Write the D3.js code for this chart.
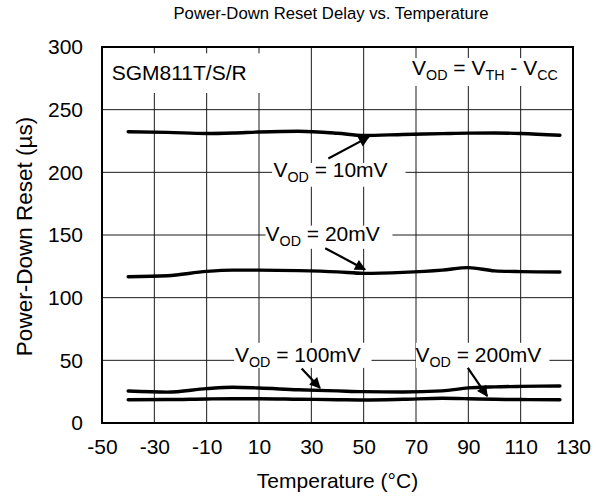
<!DOCTYPE html>
<html>
<head>
<meta charset="utf-8">
<script src="https://cdn.jsdelivr.net/npm/d3@7/dist/d3.min.js"></script>
<style>
  html, body { margin: 0; padding: 0; background: #fff; }
  svg { display: block; font-family: Arial, "Liberation Sans", sans-serif; }
</style>
</head>
<body>
<svg id="chart" width="600" height="498"></svg>
<script>
// ---- Data ----
const temperature = [-40, -25, -10, 0, 10, 25, 40, 50, 65, 80, 90, 100, 110, 125];
const vod10mV  = [232.4, 231.9, 231.0, 231.4, 232.2, 232.8, 231.2, 229.4, 230.2, 230.9, 231.3, 231.4, 231.0, 229.6];
const vod20mV  = [116.7, 117.5, 121.0, 122.0, 122.0, 121.6, 120.6, 119.4, 120.2, 122.0, 124.0, 121.4, 120.8, 120.5];
const vod100mV = [25.5, 24.6, 27.4, 28.5, 27.9, 26.5, 25.6, 25.0, 24.7, 25.6, 28.0, 28.8, 29.2, 29.5];
const vod200mV = [18.6, 18.7, 19.2, 19.4, 19.4, 19.0, 18.6, 18.4, 18.9, 19.7, 19.4, 18.9, 18.7, 18.6];
const seriesNames = ["10mV", "20mV", "100mV", "200mV"];
const xTicks = [-50, -30, -10, 10, 30, 50, 70, 90, 110, 130];
const yTicks = [0, 50, 100, 150, 200, 250, 300];
const title = "Power-Down Reset Delay vs. Temperature";
const xLabel = "Temperature (°C)";
const yLabel = "Power-Down Reset (µs)";

// ---- Layout ----
const W = 600, H = 498;
const margin = { top: 47, right: 27, bottom: 75, left: 102 };
const iw = W - margin.left - margin.right;
const ih = H - margin.top - margin.bottom;
const FS = 21;

const svg = d3.select("#chart");
const x = d3.scaleLinear().domain([-50, 130]).range([0, iw]);
const y = d3.scaleLinear().domain([0, 300]).range([ih, 0]);

const g = svg.append("g").attr("transform", `translate(${margin.left},${margin.top})`);

// grid
g.append("g").selectAll("line").data(xTicks.slice(1, -1)).join("line")
  .attr("x1", d => x(d)).attr("x2", d => x(d)).attr("y1", 0).attr("y2", ih)
  .attr("stroke", "#1a1a1a").attr("stroke-width", 1);
g.append("g").selectAll("line").data(yTicks.slice(1, -1)).join("line")
  .attr("y1", d => y(d)).attr("y2", d => y(d)).attr("x1", 0).attr("x2", iw)
  .attr("stroke", "#1a1a1a").attr("stroke-width", 1);

// axes (labels only)
const fmt = d => String(d);
const xAxis = d3.axisBottom(x).tickValues(xTicks).tickSize(0).tickPadding(16).tickFormat(fmt);
const yAxis = d3.axisLeft(y).tickValues(yTicks).tickSize(0).tickPadding(19).tickFormat(fmt);
const gx = g.append("g").attr("transform", `translate(0,${ih})`).call(xAxis);
const gy = g.append("g").call(yAxis);
[gx, gy].forEach(a => {
  a.select(".domain").remove();
  a.selectAll("text").attr("font-size", FS).attr("fill", "#000")
    .attr("font-family", "Arial, 'Liberation Sans', sans-serif");
});
gx.selectAll("text").attr("dy", "0.71em");

// label backgrounds (white boxes that interrupt the grid)
const boxes = [
  { x0: -50, x1: 11.1, y0: 295, y1: 263.3 },
  { x0: 15, x1: 66, y0: 207.5, y1: 188.5 },
  { x0: 12.5, x1: 61, y0: 157.5, y1: 139 },
  { x0: 0.5, x1: 53, y0: 64, y1: 44 },
  { x0: 70, x1: 121, y0: 64, y1: 44 },
  { x0: 67.3, x1: 127.3, y0: 291.2, y1: 268.9 }
];
g.append("g").selectAll("rect").data(boxes).join("rect")
  .attr("x", d => x(d.x0)).attr("width", d => x(d.x1) - x(d.x0))
  .attr("y", d => y(d.y0)).attr("height", d => y(d.y1) - y(d.y0))
  .attr("fill", "#fff");

// frame
g.append("rect").attr("x", 0).attr("y", 0).attr("width", iw).attr("height", ih)
  .attr("fill", "none").attr("stroke", "#000").attr("stroke-width", 2);

// lines
const allSeries = [vod10mV, vod20mV, vod100mV, vod200mV];
const line = d3.line().x((d, i) => x(temperature[i])).y(d => y(d)).curve(d3.curveMonotoneX);
g.append("g").selectAll("path").data(allSeries).join("path")
  .attr("d", d => line(d)).attr("fill", "none").attr("stroke", "#000")
  .attr("stroke-width", 3.4).attr("stroke-linecap", "round");

// subscripted label helper
function subText(sel, tx, ty, parts, size) {
  const t = sel.append("text").attr("x", tx).attr("y", ty).attr("font-size", size).attr("fill", "#000");
  let shifted = false;
  parts.forEach(p => {
    const s = t.append("tspan").text(p.t);
    if (p.sub) { s.attr("font-size", size * 0.68).attr("dy", 5); shifted = true; }
    else if (shifted) { s.attr("dy", -5); shifted = false; }
  });
  return t;
}

// annotations
const ann = [
  { name: seriesNames[0], tx: 15.5, ty: 196, ax0: 36.5, ay0: 211, ax1: 52, ay1: 228.3 },
  { name: seriesNames[1], tx: 12.5, ty: 145.5, ax0: 35.3, ay0: 139.5, ax1: 50.5, ay1: 122.5 },
  { name: seriesNames[2], tx: 0.8, ty: 49, ax0: 26.3, ay0: 43.5, ax1: 33.3, ay1: 28 },
  { name: seriesNames[3], tx: 69.8, ty: 49, ax0: 89.8, ay0: 44, ax1: 97.2, ay1: 21.5 }
];
const ag = g.append("g");
ann.forEach(a => {
  subText(ag, x(a.tx), y(a.ty), [{ t: "V" }, { t: "OD", sub: true }, { t: " = " + a.name }], FS);
});

// arrows
const defs = svg.append("defs");
defs.append("marker").attr("id", "arr").attr("viewBox", "0 0 10 10").attr("refX", 9).attr("refY", 5)
  .attr("markerWidth", 6.5).attr("markerHeight", 5).attr("orient", "auto").attr("markerUnits", "strokeWidth")
  .append("path").attr("d", "M0,0 L10,5 L0,10 Z").attr("fill", "#000");
ag.selectAll("line.arrow").data(ann).join("line").attr("class", "arrow")
  .attr("x1", d => x(d.ax0)).attr("y1", d => y(d.ay0))
  .attr("x2", d => x(d.ax1)).attr("y2", d => y(d.ay1))
  .attr("stroke", "#000").attr("stroke-width", 2.2).attr("marker-end", "url(#arr)");

// top labels
g.append("text").attr("x", x(-46.3)).attr("y", y(273.5)).attr("font-size", FS).text("SGM811T/S/R");
subText(g, x(68.5), y(277.7),
  [{ t: "V" }, { t: "OD", sub: true }, { t: " = V" }, { t: "TH", sub: true }, { t: " - V" }, { t: "CC", sub: true }], FS);

// title and axis titles
svg.append("text").attr("x", 331).attr("y", 18.5).attr("text-anchor", "middle")
  .attr("font-size", 16.7).text(title);
svg.append("text").attr("x", margin.left + iw / 2).attr("y", 488).attr("text-anchor", "middle")
  .attr("font-size", FS).text(xLabel);
svg.append("text").attr("transform", `translate(32,236.5) rotate(-90)`)
  .attr("text-anchor", "middle").attr("font-size", 22.5).text(yLabel);
</script>
</body>
</html>
